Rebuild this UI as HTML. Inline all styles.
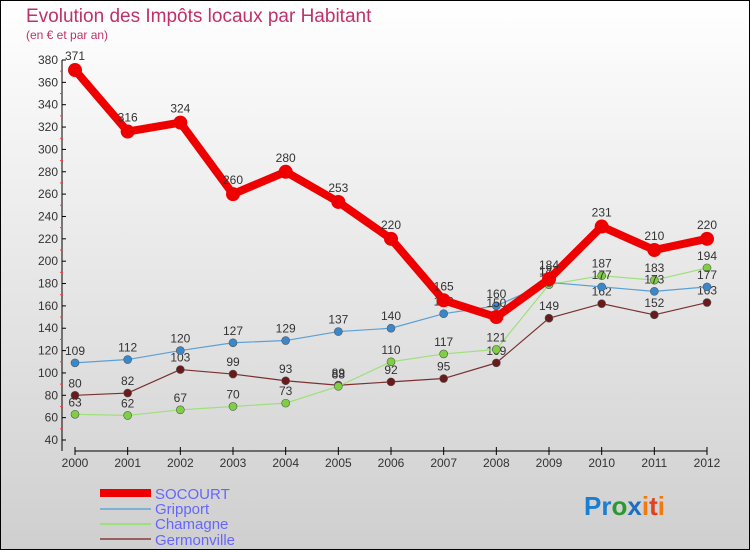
<!DOCTYPE html>
<html><head><meta charset="utf-8"><style>
html,body{margin:0;padding:0}
body{width:750px;height:550px;overflow:hidden;font-family:"Liberation Sans",sans-serif}
</style></head><body>
<svg id="c" width="750" height="550" xmlns="http://www.w3.org/2000/svg" style="display:block">
<defs><linearGradient id="bg" x1="0" y1="0" x2="0" y2="1"><stop offset="0" stop-color="#ffffff"/><stop offset="1" stop-color="#cfcfcf"/></linearGradient></defs>
<rect x="0.5" y="0.5" width="749" height="549" fill="url(#bg)" stroke="#000"/>
<text x="26" y="22" font-size="19" fill="#c0306a">Evolution des Impôts locaux par Habitant</text>
<text x="26" y="39" font-size="12" fill="#c0306a">(en € et par an)</text>
<g id="axes"></g><g id="series"></g>
<g>
<rect x="100" y="489" width="51" height="8" fill="#e00"/>
<line x1="100" y1="509" x2="151" y2="509" stroke="#7fb0d8" stroke-width="2"/>
<line x1="100" y1="524" x2="151" y2="524" stroke="#9ee07a" stroke-width="2"/>
<line x1="100" y1="539" x2="151" y2="539" stroke="#9a6060" stroke-width="2"/>
<text x="155" y="499" font-size="15" fill="#6666ff">SOCOURT</text>
<text x="155" y="514" font-size="15" fill="#6666ff">Gripport</text>
<text x="155" y="529" font-size="15" fill="#6666ff">Chamagne</text>
<text x="155" y="545" font-size="15" fill="#6666ff">Germonville</text>
</g>
<text x="584" y="515" font-size="26" font-weight="bold"><tspan fill="#1a7fd0">Pr</tspan><tspan fill="#2a9a30">o</tspan><tspan fill="#1a6fc0">x</tspan><tspan fill="#f07a10">i</tspan><tspan fill="#e04020">t</tspan><tspan fill="#f07a10">i</tspan></text>
</svg>
<script>
const years=[2000,2001,2002,2003,2004,2005,2006,2007,2008,2009,2010,2011,2012];
const socourt=[371,316,324,260,280,253,220,165,150,184,231,210,220];
const gripport=[109,112,120,127,129,137,140,153,160,181,177,173,177];
const chamagne=[63,62,67,70,73,88,110,117,121,179,187,183,194];
const germonville=[80,82,103,99,93,89,92,95,109,149,162,152,163];
const yTicks=[40,60,80,100,120,140,160,180,200,220,240,260,280,300,320,340,360,380];
const NS="http://www.w3.org/2000/svg";
const xs=i=>75+i*(707-75)/(years.length-1);
const ys=v=>440-(v-40)*380/340;
function mk(p,t,a){const e=document.createElementNS(NS,t);for(const k in a)e.setAttribute(k,a[k]);p.appendChild(e);return e;}
const ax=document.getElementById('axes');
let l=mk(ax,'line',{x1:62,y1:60,x2:62,y2:451,stroke:'#000'});


l=mk(ax,'line',{x1:75,y1:451,x2:707,y2:451,stroke:'#000'});


yTicks.forEach((v,i)=>{
  mk(ax,'line',{x1:62,y1:ys(v),x2:66,y2:ys(v),stroke:'#000'});
  if(i<yTicks.length-1)mk(ax,'line',{x1:60,y1:ys(v+10),x2:63,y2:ys(v+10),stroke:'#e44'});
  const t=mk(ax,'text',{x:58,y:ys(v)+4,'font-size':12,'text-anchor':'end',fill:'#333'});
  t.textContent=v;
  
  
});
years.forEach((y,i)=>{
  mk(ax,'line',{x1:xs(i),y1:447,x2:xs(i),y2:455,stroke:'#000'});
  const t=mk(ax,'text',{x:xs(i),y:467,'font-size':12,'text-anchor':'middle',fill:'#333'});
  t.textContent=y;
  
  
});
const sg=document.getElementById('series');
function draw(name,data,color,w,r,lab){
  const g=mk(sg,'g',{});
  
  
  const p=mk(g,'polyline',{points:data.map((v,i)=>xs(i)+','+ys(v)).join(' '),fill:'none',stroke:color,'stroke-width':w,'stroke-linejoin':'round'});
  
  
  data.forEach((v,i)=>{
    const c=mk(g,'circle',{cx:xs(i),cy:ys(v),r:r,fill:lab,stroke:w>3?'none':'#555','stroke-width':0.6});
    
    
    const t=mk(g,'text',{x:xs(i),y:ys(v)-(w>3?10:8),'font-size':12,'text-anchor':'middle',fill:'#333'});
    t.textContent=v;
    
    
  });
}
draw('germonville',germonville,'#7a3030',1.2,4,'#6a1a1a');
draw('chamagne',chamagne,'#9ee07a',1.2,4,'#7ed040');
draw('gripport',gripport,'#5aa0d8',1.2,4,'#3a88cc');
draw('socourt',socourt,'#ee0000',8,7,'#ee0000');
</script>
</body></html>
